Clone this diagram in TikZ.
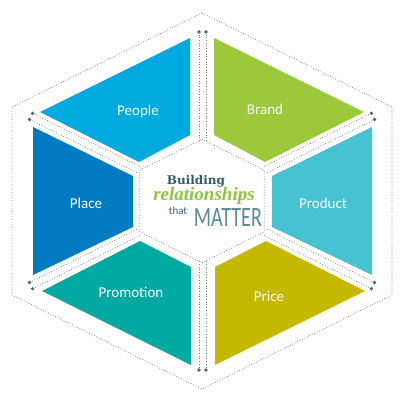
\documentclass[tikz,border=0pt]{standalone}
\usepackage{fontspec}
\usepackage{graphicx}
\setmainfont{Carlito}
\newfontfamily\slabfont{DejaVu Serif}
\newfontfamily\itfont{Liberation Serif}
\newfontfamily\thinfont{Carlito}
\definecolor{peoplec}{HTML}{00A9DE}
\definecolor{brandc}{HTML}{9CC83B}
\definecolor{placec}{HTML}{007AC1}
\definecolor{productc}{HTML}{47C2D3}
\definecolor{promoc}{HTML}{00AAA0}
\definecolor{pricec}{HTML}{C4B900}
\definecolor{dotgray}{HTML}{7A8686}
\definecolor{dotdark}{HTML}{4A5858}
\definecolor{bldc}{HTML}{2F5F6B}
\definecolor{relc}{HTML}{8DC63F}
\definecolor{thatc}{HTML}{2F6470}
\definecolor{matc}{HTML}{5A8B92}
\begin{document}
\begin{tikzpicture}[x=1pt,y=-1pt,
  dotline/.style={draw=dotgray, line width=0.8pt, dash pattern=on 0.8pt off 1.9pt},
  enddot/.style={circle, fill=dotdark, inner sep=0pt, minimum size=3.6pt},
  lab/.style={text=white, font=\fontsize{15}{17}\selectfont, inner sep=0pt}]
\useasboundingbox (0,0) rectangle (404,404);
% coloured sectors
\fill[peoplec]  (190,38) -- (40,112) -- (139,162) -- (190,135) -- cycle;
\fill[brandc]   (214,38) -- (364,112) -- (265,162) -- (214,135) -- cycle;
\fill[placec]   (33,127) -- (133,176) -- (133,227) -- (33,275) -- cycle;
\fill[productc] (372,127) -- (272,176) -- (272,227) -- (372,275) -- cycle;
\fill[promoc]   (191,365) -- (42,291) -- (140,241) -- (191,267) -- cycle;
\fill[pricec]   (215,365) -- (365,291) -- (266,241) -- (215,267) -- cycle;
% outer and inner dotted hexagons
\draw[dotline] (202,13) -- (392,107) -- (392,295) -- (202,389) -- (12,295) -- (12,107) -- cycle;
\draw[dotline] (202,139.3) -- (264.3,170.2) -- (264.3,231.8) -- (202,262.7) -- (139.7,231.8) -- (139.7,170.2) -- cycle;
% separators: end dots
\node[enddot] (t1) at (199,32) {};
\node[enddot] (t2) at (206,32) {};
\node[enddot] (b1) at (199,370) {};
\node[enddot] (b2) at (206,370) {};
\node[enddot] (lt1) at (32.6,113.3) {};
\node[enddot] (lt2) at (29.5,119.5) {};
\node[enddot] (rt1) at (371.4,113.3) {};
\node[enddot] (rt2) at (374.5,119.5) {};
\node[enddot] (lb1) at (32.6,288.7) {};
\node[enddot] (lb2) at (29.5,282.5) {};
\node[enddot] (rb1) at (371.4,288.7) {};
\node[enddot] (rb2) at (374.5,282.5) {};
% separators: inner ends
\coordinate (it1) at (199,141);
\coordinate (it2) at (206,141);
\coordinate (ib1) at (199,261);
\coordinate (ib2) at (206,261);
\coordinate (ilt1) at (140.8,166.9);
\coordinate (ilt2) at (137.8,173.1);
\coordinate (irt1) at (263.2,166.9);
\coordinate (irt2) at (266.2,173.1);
\coordinate (ilb1) at (140.8,235.1);
\coordinate (ilb2) at (137.8,228.9);
\coordinate (irb1) at (263.2,235.1);
\coordinate (irb2) at (266.2,228.9);
\foreach \a in {t1,t2,b1,b2,lt1,lt2,rt1,rt2,lb1,lb2,rb1,rb2}
  \draw[dotline] (\a.center) -- (i\a);
% labels
\node[lab] (people) at (138,112) {People};
\node[lab] (brand) at (265,109) {Brand};
\node[lab] (place) at (86,203) {Place};
\node[lab] (product) at (323,203) {Product};
\node[lab] (promotion) at (131,292) {Promotion};
\node[lab] (price) at (269,296) {Price};
% centre text
\node[text=bldc, font=\slabfont\bfseries\fontsize{12}{14}\selectfont, inner sep=0pt] (building) at (196,181) {Building};
\node[text=relc, font=\itfont\bfseries\itshape\fontsize{19}{20}\selectfont, inner sep=0pt] (rel) at (204,196) {relationships};
\node[text=thatc, font=\fontsize{11}{12}\selectfont, inner sep=0pt, anchor=base] (that) at (178,214) {that};
\node[text=matc, font=\thinfont\fontsize{28}{30}\selectfont, inner sep=0pt, anchor=base] (matter) at (228,226) {\scalebox{0.72}[1]{MATTER}};
\end{tikzpicture}
\end{document}
